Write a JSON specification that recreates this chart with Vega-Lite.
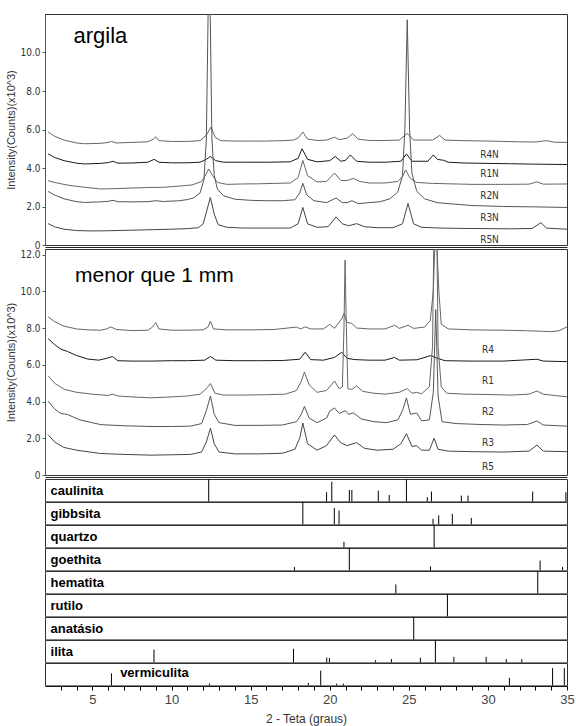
{
  "$schema": "https://vega.github.io/schema/vega-lite/v6.json",
  "background": "white",
  "padding": {"left": 5, "top": 13, "right": 8, "bottom": 4},
  "config": {
    "view": {"stroke": "#333", "strokeWidth": 1},
    "font": "Liberation Sans",
    "axis": {"grid": false, "labelOverlap": false}
  },
  "bounds": "flush",
  "spacing": 4,
  "datasets": {
    "top": [
      {"s":"R4N","x":2.2,"y":5.87},{"s":"R4N","x":2.6,"y":5.65},{"s":"R4N","x":3.2,"y":5.45},{"s":"R4N","x":4.0,"y":5.3},{"s":"R4N","x":4.5,"y":5.26},{"s":"R4N","x":5.5,"y":5.28},{"s":"R4N","x":6.0,"y":5.33},{"s":"R4N","x":6.2,"y":5.38},{"s":"R4N","x":6.5,"y":5.3},{"s":"R4N","x":7.5,"y":5.33},{"s":"R4N","x":8.5,"y":5.36},{"s":"R4N","x":8.85,"y":5.5},{"s":"R4N","x":9.0,"y":5.62},{"s":"R4N","x":9.2,"y":5.42},{"s":"R4N","x":10,"y":5.38},{"s":"R4N","x":11,"y":5.38},{"s":"R4N","x":11.8,"y":5.42},{"s":"R4N","x":12.2,"y":5.7},{"s":"R4N","x":12.5,"y":6.13},{"s":"R4N","x":12.75,"y":5.6},{"s":"R4N","x":13.1,"y":5.42},{"s":"R4N","x":14,"y":5.4},{"s":"R4N","x":15,"y":5.4},{"s":"R4N","x":16,"y":5.4},{"s":"R4N","x":17,"y":5.42},{"s":"R4N","x":17.7,"y":5.45},{"s":"R4N","x":18.0,"y":5.55},{"s":"R4N","x":18.3,"y":5.87},{"s":"R4N","x":18.6,"y":5.5},{"s":"R4N","x":19.2,"y":5.43},{"s":"R4N","x":19.8,"y":5.45},{"s":"R4N","x":20.3,"y":5.6},{"s":"R4N","x":20.6,"y":5.47},{"s":"R4N","x":21.1,"y":5.55},{"s":"R4N","x":21.45,"y":5.78},{"s":"R4N","x":21.8,"y":5.5},{"s":"R4N","x":22.5,"y":5.43},{"s":"R4N","x":23.5,"y":5.43},{"s":"R4N","x":24.4,"y":5.45},{"s":"R4N","x":24.9,"y":5.8},{"s":"R4N","x":25.3,"y":5.45},{"s":"R4N","x":26.5,"y":5.45},{"s":"R4N","x":26.95,"y":5.69},{"s":"R4N","x":27.3,"y":5.45},{"s":"R4N","x":28.5,"y":5.42},{"s":"R4N","x":30,"y":5.4},{"s":"R4N","x":31,"y":5.38},{"s":"R4N","x":32,"y":5.36},{"s":"R4N","x":33,"y":5.35},{"s":"R4N","x":33.7,"y":5.42},{"s":"R4N","x":34.2,"y":5.34},{"s":"R4N","x":35,"y":5.33},

      {"s":"R1N","x":2.2,"y":4.73},{"s":"R1N","x":2.6,"y":4.55},{"s":"R1N","x":3.2,"y":4.38},{"s":"R1N","x":4.0,"y":4.25},{"s":"R1N","x":4.5,"y":4.21},{"s":"R1N","x":5.5,"y":4.24},{"s":"R1N","x":6.0,"y":4.28},{"s":"R1N","x":6.3,"y":4.35},{"s":"R1N","x":6.6,"y":4.25},{"s":"R1N","x":7.5,"y":4.26},{"s":"R1N","x":8.5,"y":4.3},{"s":"R1N","x":8.9,"y":4.45},{"s":"R1N","x":9.2,"y":4.3},{"s":"R1N","x":10,"y":4.27},{"s":"R1N","x":11,"y":4.27},{"s":"R1N","x":11.8,"y":4.3},{"s":"R1N","x":12.2,"y":4.45},{"s":"R1N","x":12.45,"y":4.6},{"s":"R1N","x":12.8,"y":4.38},{"s":"R1N","x":13.3,"y":4.3},{"s":"R1N","x":14.5,"y":4.3},{"s":"R1N","x":16,"y":4.3},{"s":"R1N","x":17.5,"y":4.32},{"s":"R1N","x":18.0,"y":4.5},{"s":"R1N","x":18.25,"y":5.0},{"s":"R1N","x":18.6,"y":4.45},{"s":"R1N","x":19.2,"y":4.32},{"s":"R1N","x":20.0,"y":4.38},{"s":"R1N","x":20.35,"y":4.6},{"s":"R1N","x":20.7,"y":4.35},{"s":"R1N","x":21.0,"y":4.4},{"s":"R1N","x":21.3,"y":4.68},{"s":"R1N","x":21.7,"y":4.35},{"s":"R1N","x":22.5,"y":4.3},{"s":"R1N","x":23.5,"y":4.3},{"s":"R1N","x":24.5,"y":4.35},{"s":"R1N","x":24.85,"y":4.73},{"s":"R1N","x":25.2,"y":4.35},{"s":"R1N","x":26.2,"y":4.35},{"s":"R1N","x":26.55,"y":4.68},{"s":"R1N","x":26.8,"y":4.45},{"s":"R1N","x":27.2,"y":4.4},{"s":"R1N","x":27.5,"y":4.3},{"s":"R1N","x":28.5,"y":4.26},{"s":"R1N","x":30,"y":4.24},{"s":"R1N","x":31.5,"y":4.22},{"s":"R1N","x":33,"y":4.2},{"s":"R1N","x":35,"y":4.18},

      {"s":"R2N","x":2.2,"y":3.34},{"s":"R2N","x":2.6,"y":3.25},{"s":"R2N","x":3.5,"y":3.1},{"s":"R2N","x":4.5,"y":3.0},{"s":"R2N","x":5.5,"y":2.91},{"s":"R2N","x":6.5,"y":2.93},{"s":"R2N","x":7.5,"y":2.96},{"s":"R2N","x":8.7,"y":2.99},{"s":"R2N","x":9.5,"y":3.0},{"s":"R2N","x":10.5,"y":3.06},{"s":"R2N","x":11.3,"y":3.12},{"s":"R2N","x":11.9,"y":3.3},{"s":"R2N","x":12.2,"y":3.7},{"s":"R2N","x":12.35,"y":3.95},{"s":"R2N","x":12.6,"y":3.6},{"s":"R2N","x":12.9,"y":3.25},{"s":"R2N","x":13.5,"y":3.15},{"s":"R2N","x":14.5,"y":3.17},{"s":"R2N","x":15.5,"y":3.18},{"s":"R2N","x":16.5,"y":3.2},{"s":"R2N","x":17.5,"y":3.22},{"s":"R2N","x":18.0,"y":3.5},{"s":"R2N","x":18.3,"y":4.39},{"s":"R2N","x":18.6,"y":3.6},{"s":"R2N","x":19.2,"y":3.28},{"s":"R2N","x":19.8,"y":3.3},{"s":"R2N","x":20.3,"y":3.74},{"s":"R2N","x":20.7,"y":3.35},{"s":"R2N","x":21.1,"y":3.35},{"s":"R2N","x":21.5,"y":3.46},{"s":"R2N","x":21.9,"y":3.3},{"s":"R2N","x":22.5,"y":3.22},{"s":"R2N","x":23.5,"y":3.22},{"s":"R2N","x":24.3,"y":3.3},{"s":"R2N","x":24.6,"y":3.55},{"s":"R2N","x":24.8,"y":3.9},{"s":"R2N","x":25.1,"y":3.45},{"s":"R2N","x":25.5,"y":3.25},{"s":"R2N","x":26.5,"y":3.2},{"s":"R2N","x":27.5,"y":3.18},{"s":"R2N","x":29,"y":3.15},{"s":"R2N","x":31,"y":3.15},{"s":"R2N","x":32.6,"y":3.16},{"s":"R2N","x":33.1,"y":3.28},{"s":"R2N","x":33.5,"y":3.16},{"s":"R2N","x":35,"y":3.17},

      {"s":"R3N","x":2.2,"y":2.78},{"s":"R3N","x":2.6,"y":2.6},{"s":"R3N","x":3.2,"y":2.4},{"s":"R3N","x":4.0,"y":2.25},{"s":"R3N","x":4.5,"y":2.21},{"s":"R3N","x":5.5,"y":2.24},{"s":"R3N","x":6.0,"y":2.27},{"s":"R3N","x":6.3,"y":2.32},{"s":"R3N","x":6.6,"y":2.25},{"s":"R3N","x":7.5,"y":2.24},{"s":"R3N","x":8.5,"y":2.25},{"s":"R3N","x":9.0,"y":2.3},{"s":"R3N","x":9.5,"y":2.26},{"s":"R3N","x":10.5,"y":2.3},{"s":"R3N","x":11.0,"y":2.36},{"s":"R3N","x":11.4,"y":2.45},{"s":"R3N","x":11.8,"y":2.7},{"s":"R3N","x":12.05,"y":3.4},{"s":"R3N","x":12.2,"y":5.5},{"s":"R3N","x":12.38,"y":16},{"s":"R3N","x":12.55,"y":5.5},{"s":"R3N","x":12.7,"y":3.6},{"s":"R3N","x":12.9,"y":2.9},{"s":"R3N","x":13.3,"y":2.55},{"s":"R3N","x":14,"y":2.38},{"s":"R3N","x":15,"y":2.32},{"s":"R3N","x":16,"y":2.3},{"s":"R3N","x":17,"y":2.3},{"s":"R3N","x":17.8,"y":2.35},{"s":"R3N","x":18.1,"y":2.7},{"s":"R3N","x":18.3,"y":3.2},{"s":"R3N","x":18.55,"y":2.6},{"s":"R3N","x":19.0,"y":2.3},{"s":"R3N","x":19.8,"y":2.2},{"s":"R3N","x":20.4,"y":2.44},{"s":"R3N","x":20.8,"y":2.2},{"s":"R3N","x":21.1,"y":2.2},{"s":"R3N","x":21.4,"y":2.3},{"s":"R3N","x":21.8,"y":2.15},{"s":"R3N","x":22.5,"y":2.2},{"s":"R3N","x":23.2,"y":2.25},{"s":"R3N","x":23.8,"y":2.4},{"s":"R3N","x":24.3,"y":2.75},{"s":"R3N","x":24.6,"y":3.6},{"s":"R3N","x":24.75,"y":6},{"s":"R3N","x":24.9,"y":11.7},{"s":"R3N","x":25.05,"y":6},{"s":"R3N","x":25.2,"y":3.7},{"s":"R3N","x":25.5,"y":2.8},{"s":"R3N","x":26.0,"y":2.4},{"s":"R3N","x":26.8,"y":2.2},{"s":"R3N","x":27.5,"y":2.15},{"s":"R3N","x":29,"y":2.05},{"s":"R3N","x":31,"y":2.0},{"s":"R3N","x":33,"y":1.98},{"s":"R3N","x":35,"y":1.95},

      {"s":"R5N","x":2.2,"y":1.11},{"s":"R5N","x":2.6,"y":0.95},{"s":"R5N","x":3.2,"y":0.82},{"s":"R5N","x":4.0,"y":0.75},{"s":"R5N","x":5,"y":0.73},{"s":"R5N","x":6,"y":0.74},{"s":"R5N","x":7,"y":0.76},{"s":"R5N","x":8,"y":0.78},{"s":"R5N","x":9,"y":0.8},{"s":"R5N","x":10,"y":0.82},{"s":"R5N","x":11,"y":0.85},{"s":"R5N","x":11.7,"y":0.9},{"s":"R5N","x":12.0,"y":1.1},{"s":"R5N","x":12.2,"y":1.7},{"s":"R5N","x":12.45,"y":2.47},{"s":"R5N","x":12.7,"y":1.6},{"s":"R5N","x":12.95,"y":1.05},{"s":"R5N","x":13.5,"y":0.92},{"s":"R5N","x":14.5,"y":0.88},{"s":"R5N","x":15.5,"y":0.88},{"s":"R5N","x":16.5,"y":0.88},{"s":"R5N","x":17.5,"y":0.88},{"s":"R5N","x":18.0,"y":1.1},{"s":"R5N","x":18.3,"y":1.95},{"s":"R5N","x":18.6,"y":1.1},{"s":"R5N","x":19.2,"y":0.92},{"s":"R5N","x":19.9,"y":0.95},{"s":"R5N","x":20.4,"y":1.46},{"s":"R5N","x":20.8,"y":1.1},{"s":"R5N","x":21.2,"y":1.0},{"s":"R5N","x":21.7,"y":1.11},{"s":"R5N","x":22.2,"y":0.95},{"s":"R5N","x":23,"y":0.9},{"s":"R5N","x":24,"y":0.9},{"s":"R5N","x":24.6,"y":1.1},{"s":"R5N","x":24.95,"y":2.16},{"s":"R5N","x":25.3,"y":1.1},{"s":"R5N","x":25.8,"y":0.92},{"s":"R5N","x":27,"y":0.88},{"s":"R5N","x":28.5,"y":0.86},{"s":"R5N","x":30,"y":0.85},{"s":"R5N","x":31.5,"y":0.84},{"s":"R5N","x":32.8,"y":0.86},{"s":"R5N","x":33.35,"y":1.16},{"s":"R5N","x":33.7,"y":0.88},{"s":"R5N","x":35,"y":0.82}
    ],
    "topLabels": [
      {"t":"R4N","x":30.1,"y":4.7},{"t":"R1N","x":30.1,"y":3.7},{"t":"R2N","x":30.1,"y":2.56},{"t":"R3N","x":30.1,"y":1.41},{"t":"R5N","x":30.1,"y":0.26}
    ],
    "topTitle": [{"t":"argila","x":3.8,"y":10.5}],
    "mid": [
      {"s":"R4","x":2.2,"y":8.61},{"s":"R4","x":2.6,"y":8.35},{"s":"R4","x":3.2,"y":8.1},{"s":"R4","x":4.0,"y":7.95},{"s":"R4","x":4.7,"y":7.9},{"s":"R4","x":5.5,"y":7.88},{"s":"R4","x":5.9,"y":7.95},{"s":"R4","x":6.16,"y":8.06},{"s":"R4","x":6.5,"y":7.92},{"s":"R4","x":7.5,"y":7.86},{"s":"R4","x":8.5,"y":7.88},{"s":"R4","x":8.8,"y":8.05},{"s":"R4","x":9.0,"y":8.3},{"s":"R4","x":9.2,"y":7.95},{"s":"R4","x":10,"y":7.88},{"s":"R4","x":11,"y":7.88},{"s":"R4","x":12.0,"y":7.9},{"s":"R4","x":12.3,"y":8.05},{"s":"R4","x":12.46,"y":8.37},{"s":"R4","x":12.65,"y":7.95},{"s":"R4","x":13.5,"y":7.9},{"s":"R4","x":15,"y":7.9},{"s":"R4","x":16.5,"y":7.92},{"s":"R4","x":17.9,"y":8.05},{"s":"R4","x":18.15,"y":7.95},{"s":"R4","x":18.45,"y":8.06},{"s":"R4","x":18.8,"y":7.95},{"s":"R4","x":19.6,"y":7.95},{"s":"R4","x":20.0,"y":8.2},{"s":"R4","x":20.3,"y":7.98},{"s":"R4","x":20.76,"y":8.5},{"s":"R4","x":20.9,"y":8.8},{"s":"R4","x":21.1,"y":8.3},{"s":"R4","x":21.4,"y":8.25},{"s":"R4","x":21.7,"y":8.0},{"s":"R4","x":22.5,"y":7.95},{"s":"R4","x":23.5,"y":7.95},{"s":"R4","x":24.1,"y":8.15},{"s":"R4","x":24.4,"y":7.98},{"s":"R4","x":24.95,"y":8.15},{"s":"R4","x":25.3,"y":7.98},{"s":"R4","x":26.0,"y":8.05},{"s":"R4","x":26.35,"y":8.4},{"s":"R4","x":26.55,"y":10},{"s":"R4","x":26.7,"y":14},{"s":"R4","x":26.9,"y":10},{"s":"R4","x":27.05,"y":8.2},{"s":"R4","x":27.5,"y":7.95},{"s":"R4","x":29,"y":7.9},{"s":"R4","x":31,"y":7.88},{"s":"R4","x":32.5,"y":7.85},{"s":"R4","x":33.5,"y":7.82},{"s":"R4","x":34,"y":7.8},{"s":"R4","x":34.5,"y":7.85},{"s":"R4","x":35,"y":8.06},

      {"s":"R1","x":2.2,"y":7.42},{"s":"R1","x":2.6,"y":7.1},{"s":"R1","x":3.0,"y":6.85},{"s":"R1","x":3.43,"y":6.72},{"s":"R1","x":4.0,"y":6.5},{"s":"R1","x":4.7,"y":6.31},{"s":"R1","x":5.4,"y":6.25},{"s":"R1","x":5.9,"y":6.35},{"s":"R1","x":6.26,"y":6.45},{"s":"R1","x":6.6,"y":6.22},{"s":"R1","x":7.5,"y":6.2},{"s":"R1","x":8.7,"y":6.2},{"s":"R1","x":10,"y":6.22},{"s":"R1","x":11,"y":6.22},{"s":"R1","x":12.1,"y":6.25},{"s":"R1","x":12.46,"y":6.45},{"s":"R1","x":12.8,"y":6.25},{"s":"R1","x":14,"y":6.22},{"s":"R1","x":15.5,"y":6.22},{"s":"R1","x":17,"y":6.23},{"s":"R1","x":18.1,"y":6.3},{"s":"R1","x":18.45,"y":6.68},{"s":"R1","x":18.8,"y":6.28},{"s":"R1","x":19.6,"y":6.25},{"s":"R1","x":20.3,"y":6.4},{"s":"R1","x":20.76,"y":6.68},{"s":"R1","x":21.1,"y":6.35},{"s":"R1","x":21.6,"y":6.28},{"s":"R1","x":22.5,"y":6.25},{"s":"R1","x":23.5,"y":6.25},{"s":"R1","x":24.1,"y":6.4},{"s":"R1","x":24.4,"y":6.25},{"s":"R1","x":25.5,"y":6.27},{"s":"R1","x":26.4,"y":6.5},{"s":"R1","x":26.8,"y":6.35},{"s":"R1","x":27.3,"y":6.22},{"s":"R1","x":29,"y":6.2},{"s":"R1","x":31,"y":6.2},{"s":"R1","x":33.1,"y":6.3},{"s":"R1","x":33.5,"y":6.2},{"s":"R1","x":35,"y":6.17},

      {"s":"R2","x":2.2,"y":5.4},{"s":"R2","x":2.6,"y":5.0},{"s":"R2","x":3.2,"y":4.67},{"s":"R2","x":4.0,"y":4.5},{"s":"R2","x":5.1,"y":4.39},{"s":"R2","x":6.0,"y":4.33},{"s":"R2","x":6.3,"y":4.4},{"s":"R2","x":6.6,"y":4.3},{"s":"R2","x":7.5,"y":4.25},{"s":"R2","x":8.7,"y":4.2},{"s":"R2","x":10,"y":4.25},{"s":"R2","x":11,"y":4.3},{"s":"R2","x":11.8,"y":4.4},{"s":"R2","x":12.2,"y":4.7},{"s":"R2","x":12.46,"y":4.98},{"s":"R2","x":12.75,"y":4.45},{"s":"R2","x":13.3,"y":4.35},{"s":"R2","x":14.5,"y":4.35},{"s":"R2","x":16,"y":4.37},{"s":"R2","x":17.2,"y":4.4},{"s":"R2","x":17.9,"y":4.6},{"s":"R2","x":18.2,"y":5.1},{"s":"R2","x":18.4,"y":5.6},{"s":"R2","x":18.7,"y":4.9},{"s":"R2","x":19.2,"y":4.5},{"s":"R2","x":19.8,"y":4.6},{"s":"R2","x":20.1,"y":4.9},{"s":"R2","x":20.3,"y":5.12},{"s":"R2","x":20.6,"y":4.7},{"s":"R2","x":20.8,"y":4.8},{"s":"R2","x":20.9,"y":8},{"s":"R2","x":20.97,"y":11.7},{"s":"R2","x":21.05,"y":8},{"s":"R2","x":21.15,"y":4.7},{"s":"R2","x":21.4,"y":4.65},{"s":"R2","x":21.7,"y":4.85},{"s":"R2","x":22.1,"y":4.55},{"s":"R2","x":22.8,"y":4.45},{"s":"R2","x":23.5,"y":4.4},{"s":"R2","x":24.4,"y":4.5},{"s":"R2","x":24.9,"y":4.7},{"s":"R2","x":25.2,"y":4.45},{"s":"R2","x":25.5,"y":4.5},{"s":"R2","x":25.8,"y":4.42},{"s":"R2","x":26.3,"y":4.8},{"s":"R2","x":26.5,"y":7},{"s":"R2","x":26.68,"y":20},{"s":"R2","x":26.85,"y":7},{"s":"R2","x":27.05,"y":4.8},{"s":"R2","x":27.4,"y":4.45},{"s":"R2","x":28.5,"y":4.4},{"s":"R2","x":30,"y":4.38},{"s":"R2","x":31.5,"y":4.35},{"s":"R2","x":32.6,"y":4.4},{"s":"R2","x":33.1,"y":4.57},{"s":"R2","x":33.5,"y":4.4},{"s":"R2","x":34.5,"y":4.3},{"s":"R2","x":35,"y":4.26},

      {"s":"R3","x":2.2,"y":4.02},{"s":"R3","x":2.6,"y":3.6},{"s":"R3","x":3.0,"y":3.35},{"s":"R3","x":3.43,"y":3.29},{"s":"R3","x":4.2,"y":3.0},{"s":"R3","x":5.53,"y":2.74},{"s":"R3","x":7,"y":2.68},{"s":"R3","x":8.7,"y":2.64},{"s":"R3","x":10,"y":2.64},{"s":"R3","x":11.2,"y":2.66},{"s":"R3","x":11.9,"y":2.8},{"s":"R3","x":12.2,"y":3.5},{"s":"R3","x":12.46,"y":4.3},{"s":"R3","x":12.7,"y":3.3},{"s":"R3","x":13.0,"y":2.85},{"s":"R3","x":14,"y":2.7},{"s":"R3","x":15.5,"y":2.7},{"s":"R3","x":17,"y":2.72},{"s":"R3","x":17.9,"y":2.9},{"s":"R3","x":18.2,"y":3.3},{"s":"R3","x":18.4,"y":3.73},{"s":"R3","x":18.7,"y":3.1},{"s":"R3","x":19.2,"y":2.85},{"s":"R3","x":19.8,"y":3.1},{"s":"R3","x":20.0,"y":3.47},{"s":"R3","x":20.3,"y":3.65},{"s":"R3","x":20.6,"y":3.35},{"s":"R3","x":21.0,"y":3.5},{"s":"R3","x":21.2,"y":3.3},{"s":"R3","x":21.5,"y":3.38},{"s":"R3","x":22.0,"y":3.05},{"s":"R3","x":22.8,"y":2.9},{"s":"R3","x":23.6,"y":2.85},{"s":"R3","x":24.3,"y":3.0},{"s":"R3","x":24.6,"y":3.5},{"s":"R3","x":24.85,"y":4.2},{"s":"R3","x":25.1,"y":3.3},{"s":"R3","x":25.5,"y":3.38},{"s":"R3","x":25.8,"y":2.95},{"s":"R3","x":26.3,"y":3.0},{"s":"R3","x":26.55,"y":4.5},{"s":"R3","x":26.7,"y":9},{"s":"R3","x":26.85,"y":4.3},{"s":"R3","x":27.1,"y":2.9},{"s":"R3","x":28,"y":2.8},{"s":"R3","x":29.5,"y":2.75},{"s":"R3","x":31,"y":2.72},{"s":"R3","x":32.5,"y":2.75},{"s":"R3","x":33.1,"y":2.94},{"s":"R3","x":33.5,"y":2.72},{"s":"R3","x":35,"y":2.66},

      {"s":"R5","x":2.2,"y":2.19},{"s":"R5","x":2.6,"y":1.8},{"s":"R5","x":3.2,"y":1.5},{"s":"R5","x":4.0,"y":1.35},{"s":"R5","x":5.5,"y":1.17},{"s":"R5","x":7,"y":1.12},{"s":"R5","x":8.7,"y":1.08},{"s":"R5","x":10,"y":1.1},{"s":"R5","x":11.2,"y":1.12},{"s":"R5","x":11.9,"y":1.25},{"s":"R5","x":12.2,"y":1.8},{"s":"R5","x":12.46,"y":2.55},{"s":"R5","x":12.7,"y":1.7},{"s":"R5","x":13.0,"y":1.25},{"s":"R5","x":14,"y":1.15},{"s":"R5","x":15.5,"y":1.15},{"s":"R5","x":17,"y":1.18},{"s":"R5","x":17.8,"y":1.4},{"s":"R5","x":18.1,"y":2.0},{"s":"R5","x":18.3,"y":2.83},{"s":"R5","x":18.6,"y":1.7},{"s":"R5","x":19.2,"y":1.35},{"s":"R5","x":19.8,"y":1.6},{"s":"R5","x":20.3,"y":2.18},{"s":"R5","x":20.7,"y":1.75},{"s":"R5","x":21.1,"y":1.6},{"s":"R5","x":21.7,"y":1.76},{"s":"R5","x":22.2,"y":1.45},{"s":"R5","x":23,"y":1.35},{"s":"R5","x":24,"y":1.4},{"s":"R5","x":24.5,"y":1.7},{"s":"R5","x":24.85,"y":2.25},{"s":"R5","x":25.2,"y":1.55},{"s":"R5","x":25.5,"y":1.6},{"s":"R5","x":25.8,"y":1.35},{"s":"R5","x":26.3,"y":1.35},{"s":"R5","x":26.6,"y":2.0},{"s":"R5","x":26.85,"y":1.4},{"s":"R5","x":27.5,"y":1.3},{"s":"R5","x":29,"y":1.27},{"s":"R5","x":31,"y":1.25},{"s":"R5","x":32.6,"y":1.3},{"s":"R5","x":33.1,"y":1.63},{"s":"R5","x":33.5,"y":1.3},{"s":"R5","x":35,"y":1.27}
    ],
    "midLabels": [
      {"t":"R4","x":30.0,"y":6.83},{"t":"R1","x":30.0,"y":5.12},{"t":"R2","x":30.0,"y":3.42},{"t":"R3","x":30.0,"y":1.73},{"t":"R5","x":30.0,"y":0.45}
    ],
    "midTitle": [{"t":"menor que 1 mm","x":3.9,"y":10.5}],
    "sticks": [
      {"m":"caulinita","x":12.35,"i":100},{"m":"caulinita","x":19.8,"i":41},{"m":"caulinita","x":20.13,"i":88},{"m":"caulinita","x":21.24,"i":51},{"m":"caulinita","x":21.4,"i":51},{"m":"caulinita","x":23.07,"i":48},{"m":"caulinita","x":23.76,"i":29},{"m":"caulinita","x":24.85,"i":100},{"m":"caulinita","x":26.17,"i":19},{"m":"caulinita","x":26.43,"i":44},{"m":"caulinita","x":28.32,"i":26},{"m":"caulinita","x":28.74,"i":26},{"m":"caulinita","x":32.83,"i":44},{"m":"caulinita","x":34.93,"i":41},
      {"m":"gibbsita","x":18.3,"i":100},{"m":"gibbsita","x":20.29,"i":73},{"m":"gibbsita","x":20.59,"i":62},{"m":"gibbsita","x":26.53,"i":25},{"m":"gibbsita","x":26.89,"i":40},{"m":"gibbsita","x":27.75,"i":47},{"m":"gibbsita","x":28.95,"i":29},
      {"m":"quartzo","x":20.9,"i":25},{"m":"quartzo","x":26.6,"i":100},
      {"m":"goethita","x":17.77,"i":15},{"m":"goethita","x":21.24,"i":100},{"m":"goethita","x":26.37,"i":18},{"m":"goethita","x":33.3,"i":44},{"m":"goethita","x":34.72,"i":15},
      {"m":"hematita","x":24.18,"i":40},{"m":"hematita","x":33.15,"i":100},
      {"m":"rutilo","x":27.44,"i":100},
      {"m":"anatásio","x":25.31,"i":100},
      {"m":"ilita","x":8.89,"i":57},{"m":"ilita","x":17.71,"i":61},{"m":"ilita","x":19.81,"i":22},{"m":"ilita","x":19.98,"i":19},{"m":"ilita","x":22.9,"i":10},{"m":"ilita","x":23.9,"i":15},{"m":"ilita","x":25.73,"i":21},{"m":"ilita","x":26.68,"i":100},{"m":"ilita","x":27.85,"i":25},{"m":"ilita","x":29.89,"i":25},{"m":"ilita","x":31.16,"i":15},{"m":"ilita","x":32.14,"i":15},
      {"m":"vermiculita","x":6.2,"i":54},{"m":"vermiculita","x":12.4,"i":8},{"m":"vermiculita","x":18.65,"i":11},{"m":"vermiculita","x":19.43,"i":66},{"m":"vermiculita","x":20.44,"i":8},{"m":"vermiculita","x":20.86,"i":8},{"m":"vermiculita","x":31.36,"i":34},{"m":"vermiculita","x":34.09,"i":77},{"m":"vermiculita","x":34.83,"i":77}
    ]
  },
  "vconcat": [
    {
      "width": 522,
      "height": 231,
      "encoding": {
        "x": {"field": "x", "type": "quantitative",
              "scale": {"domain": [2, 35], "nice": false, "zero": false},
              "axis": {"labels": false, "ticks": false, "title": null, "domainColor": "#222", "offset": 2}},
        "y": {"field": "y", "type": "quantitative",
              "scale": {"domain": [0, 12], "nice": false},
              "axis": {"values": [0, 2, 4, 6, 8, 10], "labelOverlap": false,
                       "labelExpr": "datum.value === 0 ? '0' : format(datum.value, '.1f')",
                       "title": "Intensity(Counts)(x10^3)",
                       "titleFont": "Liberation Sans", "titleFontSize": 11, "titleFontWeight": "normal", "titleColor": "#333", "titlePadding": 3,
                       "labelFont": "Liberation Sans Narrow, DejaVu Sans Condensed, Liberation Sans, sans-serif", "labelFontSize": 10, "labelColor": "#333", "labelPadding": 2,
                       "tickSize": 3, "tickColor": "#555", "domainColor": "#555"}}
      },
      "layer": [
        {
          "data": {"name": "top"},
          "mark": {"type": "line", "strokeWidth": 1, "clip": true},
          "encoding": {
            "color": {"field": "s", "type": "nominal",
                      "scale": {"domain": ["R4N", "R1N", "R2N", "R3N", "R5N"], "range": ["#666666", "#1a1a1a", "#666666", "#555555", "#444444"]},
                      "legend": null}
          }
        },
        {
          "data": {"name": "topLabels"},
          "mark": {"type": "text", "font": "Liberation Sans Narrow, DejaVu Sans Condensed, Liberation Sans, sans-serif", "fontSize": 10, "color": "#333", "align": "center", "baseline": "middle"},
          "encoding": {"text": {"field": "t"}}
        },
        {
          "data": {"name": "topTitle"},
          "mark": {"type": "text", "font": "Liberation Sans", "fontSize": 22, "color": "#000", "align": "left", "baseline": "alphabetic"},
          "encoding": {"text": {"field": "t"}}
        }
      ]
    },
    {
      "width": 522,
      "height": 226,
      "encoding": {
        "x": {"field": "x", "type": "quantitative",
              "scale": {"domain": [2, 35], "nice": false, "zero": false},
              "axis": {"labels": false, "ticks": false, "title": null, "domainColor": "#222", "offset": 2}},
        "y": {"field": "y", "type": "quantitative",
              "scale": {"domain": [0, 12.3], "nice": false},
              "axis": {"values": [0, 2, 4, 6, 8, 10, 12], "labelOverlap": false,
                       "labelExpr": "datum.value === 0 ? '0' : format(datum.value, '.1f')",
                       "title": "Intensity(Counts)(x10^3)",
                       "titleFont": "Liberation Sans", "titleFontSize": 11, "titleFontWeight": "normal", "titleColor": "#333", "titlePadding": 3,
                       "labelFont": "Liberation Sans Narrow, DejaVu Sans Condensed, Liberation Sans, sans-serif", "labelFontSize": 10, "labelColor": "#333", "labelPadding": 2,
                       "tickSize": 3, "tickColor": "#555", "domainColor": "#555"}}
      },
      "layer": [
        {
          "data": {"name": "mid"},
          "mark": {"type": "line", "strokeWidth": 1, "clip": true},
          "encoding": {
            "color": {"field": "s", "type": "nominal",
                      "scale": {"domain": ["R4", "R1", "R2", "R3", "R5"], "range": ["#666666", "#1a1a1a", "#666666", "#555555", "#444444"]},
                      "legend": null}
          }
        },
        {
          "data": {"name": "midLabels"},
          "mark": {"type": "text", "font": "Liberation Sans Narrow, DejaVu Sans Condensed, Liberation Sans, sans-serif", "fontSize": 10, "color": "#333", "align": "center", "baseline": "middle"},
          "encoding": {"text": {"field": "t"}}
        },
        {
          "data": {"name": "midTitle"},
          "mark": {"type": "text", "font": "Liberation Sans", "fontSize": 21, "color": "#000", "align": "left", "baseline": "alphabetic"},
          "encoding": {"text": {"field": "t"}}
        }
      ]
    },
    {
      "data": {"name": "sticks"},
      "bounds": "flush",
      "spacing": {"row": 0, "column": 0},
      "facet": {
        "row": {"field": "m", "type": "nominal",
                "sort": ["caulinita", "gibbsita", "quartzo", "goethita", "hematita", "rutilo", "anatásio", "ilita", "vermiculita"],
                "header": {"labels": false, "title": null, "labelPadding": 0, "titlePadding": 0}}
      },
      "spec": {
        "width": 522,
        "height": 22.4,
        "layer": [
          {
            "mark": {"type": "rule", "color": "#000", "strokeWidth": 1},
            "encoding": {
              "x": {"field": "x", "type": "quantitative",
                    "scale": {"domain": [2, 35], "nice": false, "zero": false},
                    "axis": {"values": [3,4,5,6,7,8,9,10,11,12,13,14,15,16,17,18,19,20,21,22,23,24,25,26,27,28,29,30,31,32,33,34,35],
                             "labelExpr": "datum.value % 5 === 0 ? format(datum.value, 'd') : ''",
                             "labelOverlap": false,
                             "labelFont": "Liberation Sans", "labelFontSize": 13, "labelColor": "#444", "labelPadding": 3, "labelFlush": false,
                             "tickSize": 4, "tickColor": "#000", "domainColor": "#000",
                             "title": "2 - Teta (graus)", "titleFont": "Liberation Sans", "titleFontSize": 12, "titleFontWeight": "normal", "titleColor": "#333", "titlePadding": 7}},
              "y": {"field": "i", "type": "quantitative", "scale": {"domain": [0, 100], "nice": false}, "axis": null},
              "y2": {"datum": 0}
            }
          },
          {
            "transform": [
              {"aggregate": [{"op": "count", "as": "n"}], "groupby": ["m"]},
              {"filter": "datum.m !== 'vermiculita'"}
            ],
            "mark": {"type": "text", "font": "Liberation Sans", "fontWeight": "bold", "fontSize": 13, "color": "#000", "align": "left", "baseline": "middle"},
            "encoding": {
              "x": {"datum": 2.35,
                    "axis": {"values": [3,4,5,6,7,8,9,10,11,12,13,14,15,16,17,18,19,20,21,22,23,24,25,26,27,28,29,30,31,32,33,34,35],
                             "labelExpr": "datum.value % 5 === 0 ? format(datum.value, 'd') : ''",
                             "labelOverlap": false,
                             "labelFont": "Liberation Sans", "labelFontSize": 13, "labelColor": "#444", "labelPadding": 3, "labelFlush": false,
                             "tickSize": 4, "tickColor": "#000", "domainColor": "#000",
                             "title": "2 - Teta (graus)", "titleFont": "Liberation Sans", "titleFontSize": 12, "titleFontWeight": "normal", "titleColor": "#333", "titlePadding": 7}},
              "y": {"datum": 47, "axis": null},
              "text": {"field": "m"}
            }
          },
          {
            "transform": [
              {"aggregate": [{"op": "count", "as": "n"}], "groupby": ["m"]},
              {"filter": "datum.m === 'vermiculita'"}
            ],
            "mark": {"type": "text", "font": "Liberation Sans", "fontWeight": "bold", "fontSize": 13, "color": "#000", "align": "left", "baseline": "middle"},
            "encoding": {
              "x": {"datum": 6.75,
                    "axis": {"values": [3,4,5,6,7,8,9,10,11,12,13,14,15,16,17,18,19,20,21,22,23,24,25,26,27,28,29,30,31,32,33,34,35],
                             "labelExpr": "datum.value % 5 === 0 ? format(datum.value, 'd') : ''",
                             "labelOverlap": false,
                             "labelFont": "Liberation Sans", "labelFontSize": 13, "labelColor": "#444", "labelPadding": 3, "labelFlush": false,
                             "tickSize": 4, "tickColor": "#000", "domainColor": "#000",
                             "title": "2 - Teta (graus)", "titleFont": "Liberation Sans", "titleFontSize": 12, "titleFontWeight": "normal", "titleColor": "#333", "titlePadding": 7}},
              "y": {"datum": 55, "axis": null},
              "text": {"field": "m"}
            }
          }
        ]
      }
    }
  ]
}
